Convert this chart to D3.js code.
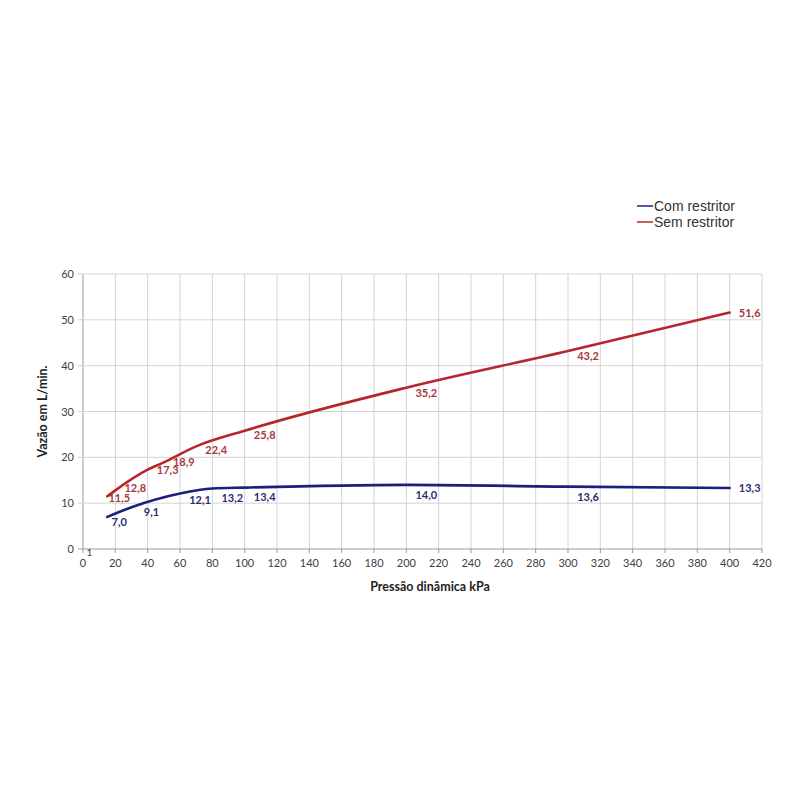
<!DOCTYPE html>
<html>
<head>
<meta charset="utf-8">
<script src="https://cdn.jsdelivr.net/npm/d3@7"></script>
<style>
  body { margin: 0; background: #fff; }
</style>
</head>
<body>
<div id="chart"></div>
<script>
// pressures (kPa) and flow (L/min)
const semX = [15, 20, 40, 50, 70, 100, 200, 300, 400]
const semY = [11.5, 12.8, 17.3, 18.9, 22.4, 25.8, 35.2, 43.2, 51.6]
const comX = [15, 30, 60, 80, 100, 200, 300, 400]
const comY = [7.0, 9.1, 12.1, 13.2, 13.4, 14.0, 13.6, 13.3]
const xTicks = d3.range(0, 421, 20)
const yTicks = [0, 10, 20, 30, 40, 50, 60]
const seriesNames = ["Com restritor", "Sem restritor"]

const width = 800, height = 800
const margin = { left: 83, right: 38, top: 274, bottom: 251 }

const svg = d3.select("#chart").append("svg")
    .attr("width", width)
    .attr("height", height)

const x = d3.scaleLinear().domain([0, 420]).range([margin.left, width - margin.right])
const y = d3.scaleLinear().domain([0, 60]).range([height - margin.bottom, margin.top])

const font = "Lato, 'Open Sans', sans-serif"

// grid
svg.append("g")
    .selectAll("line.v")
    .data(xTicks)
    .join("line")
    .attr("x1", d => x(d)).attr("x2", d => x(d))
    .attr("y1", y(0)).attr("y2", y(60))
    .attr("stroke", d => d == 0 ? "#9a9a9a" : "#d4d4d4")
    .attr("stroke-width", 1)

svg.append("g")
    .selectAll("line.h")
    .data(yTicks)
    .join("line")
    .attr("x1", x(0) - 5).attr("x2", x(420))
    .attr("y1", d => y(d)).attr("y2", d => y(d))
    .attr("stroke", d => d == 0 ? "#9a9a9a" : "#d4d4d4")
    .attr("stroke-width", 1)

// x tick marks below axis
svg.append("g")
    .selectAll("line")
    .data(xTicks)
    .join("line")
    .attr("x1", d => x(d)).attr("x2", d => x(d))
    .attr("y1", y(0)).attr("y2", y(0) + 4)
    .attr("stroke", "#9a9a9a")

// tick labels
svg.append("g")
    .selectAll("text")
    .data(xTicks)
    .join("text")
    .attr("x", d => x(d))
    .attr("y", y(0) + 18)
    .attr("text-anchor", "middle")
    .attr("font-family", font)
    .attr("font-size", 11)
    .attr("fill", "#404040")
    .text(d => d)

svg.append("g")
    .selectAll("text")
    .data(yTicks)
    .join("text")
    .attr("x", x(0) - 9)
    .attr("y", d => y(d) + 4)
    .attr("text-anchor", "end")
    .attr("font-family", font)
    .attr("font-size", 11)
    .attr("fill", "#404040")
    .text(d => d)

// stray "1" near the origin
svg.append("text")
    .attr("x", x(4))
    .attr("y", y(0) + 7)
    .attr("text-anchor", "middle")
    .attr("font-family", font)
    .attr("font-size", 10)
    .attr("fill", "#404040")
    .text("1")

// axis titles
svg.append("text")
    .attr("x", 430)
    .attr("y", 591)
    .attr("text-anchor", "middle")
    .attr("font-family", font)
    .attr("font-weight", "bold")
    .attr("font-size", 12.5)
    .attr("fill", "#222")
    .text("Pressão dinâmica kPa")

svg.append("text")
    .attr("transform", `translate(47,${y(30)}) rotate(-90)`)
    .attr("text-anchor", "middle")
    .attr("font-family", font)
    .attr("font-weight", "bold")
    .attr("font-size", 12.5)
    .attr("fill", "#222")
    .text("Vazão em L/min.")

const series = [
    { name: seriesNames[0], xs: comX, ys: comY, line: "#1c1f80", label: "#28306e" },
    { name: seriesNames[1], xs: semX, ys: semY, line: "#b5272d", label: "#a8383a" }
]

const line = d3.line()
    .x(d => x(d[0]))
    .y(d => y(d[1]))
    .curve(d3.curveMonotoneX)

svg.append("g")
    .selectAll("path")
    .data(series)
    .join("path")
    .attr("fill", "none")
    .attr("stroke", d => d.line)
    .attr("stroke-width", 2.6)
    .attr("stroke-linecap", "round")
    .attr("d", d => line(d3.zip(d.xs, d.ys)))

// data labels: shifted right of the point and hung just under the line;
// the last one sits to the right of the line end
series.forEach(s => {
    const last = s.xs.length - 1
    const along = d3.scaleLinear().domain(s.xs).range(s.ys)
    const dx = i => i == 0 ? 12 : 20
    svg.append("g")
        .selectAll("text")
        .data(d3.zip(s.xs, s.ys))
        .join("text")
        .attr("x", (d, i) => x(d[0]) + dx(i))
        .attr("y", (d, i) => i == last
            ? y(d[1]) + 4
            : y(along(x.invert(x(d[0]) + dx(i)))) + 14)
        .attr("text-anchor", "middle")
        .attr("font-family", font)
        .attr("font-weight", "bold")
        .attr("font-size", 11)
        .attr("fill", s.label)
        .text(d => d3.format(".1f")(d[1]).replace(".", ","))
})

// legend
const legend = svg.append("g")
    .selectAll("g")
    .data(series)
    .join("g")
    .attr("transform", (d, i) => `translate(637,${206 + i * 16})`)

legend.append("line")
    .attr("x1", 0).attr("x2", 16)
    .attr("y1", 0).attr("y2", 0)
    .attr("stroke", d => d.line)
    .attr("stroke-width", 1.5)

legend.append("text")
    .attr("x", 17)
    .attr("y", 5)
    .attr("font-family", "'Liberation Sans', Arial, sans-serif")
    .attr("font-size", 14)
    .attr("fill", "#333")
    .text(d => d.name)
</script>
</body>
</html>
